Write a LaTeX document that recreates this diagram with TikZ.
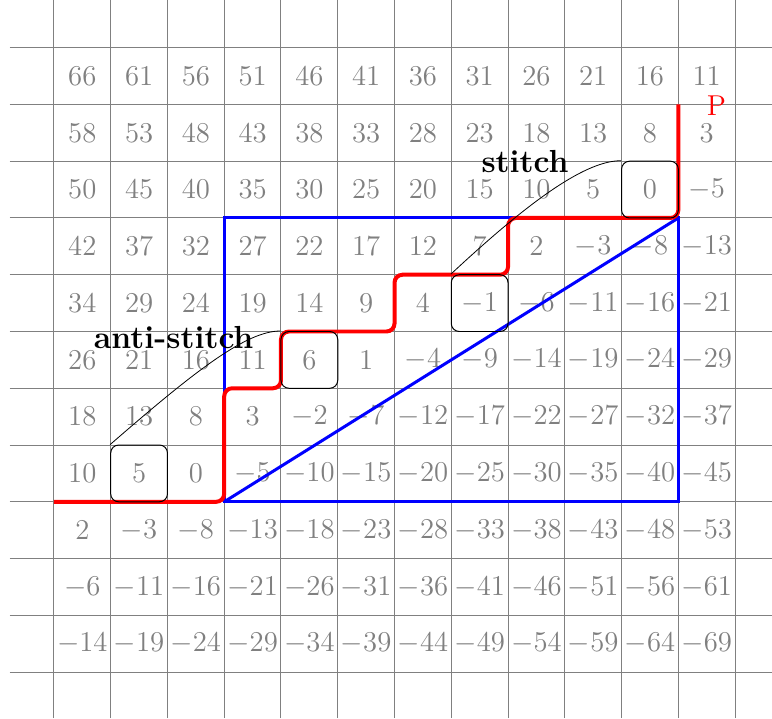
\documentclass[tikz,border=0pt]{standalone}
\begin{document}
\begin{tikzpicture}[>=stealth, every node/.style={font=\Large},
    cellbox/.style={draw, rounded corners, minimum size=1cm, inner sep=0pt, line width=0.5pt},
    tag/.style={font=\fontsize{16}{19}\selectfont\bfseries}]
        \useasboundingbox (-0.95,-0.81) rectangle (12.65,11.84);
        \draw[gray, line width=0.5pt] (-0.78,-0.81) grid (12.65,11.84);
        \foreach \i in {0,...,11} {
            \foreach \j in {0,...,10} {
                \pgfmathtruncatemacro{\val}{5*(10-\i)+8*(\j-8)}
                \node[gray] (n-\i-\j) at (\i+0.5,\j+0.5) {$\val$};
            }
        }
        \draw[blue, line width=1.5pt] (3,3) rectangle (11,8);
        \draw[blue, line width=1.5pt] (3,3) -- (11,8);
        \draw[red, line width=2pt, rounded corners] (0,3) -- (3,3) -- (3,5) -- (4,5) -- (4,6)
            -- (6,6) -- (6,7) -- (8,7) -- (8,8) -- (11,8) -- (11,10);
        \node[red] (P) at (11.67,9.97) {P};
        \node[cellbox] (box5)  at (1.5,3.5) {};
        \node[cellbox] (box6)  at (4.5,5.5) {};
        \node[cellbox] (boxm1) at (7.5,6.5) {};
        \node[cellbox] (box0)  at (10.5,8.5) {};
        \draw (box5.north west) .. controls +(41:2) and +(-0.6,0) .. (box6.north west);
        \draw (boxm1.north west) .. controls +(43:2) and +(-0.6,0) .. (box0.north west);
        \node[tag] (anti) at (2.11,5.9) {anti-stitch};
        \node[tag] (stitch) at (8.3,9.0) {stitch};
    \end{tikzpicture}
\end{document}
